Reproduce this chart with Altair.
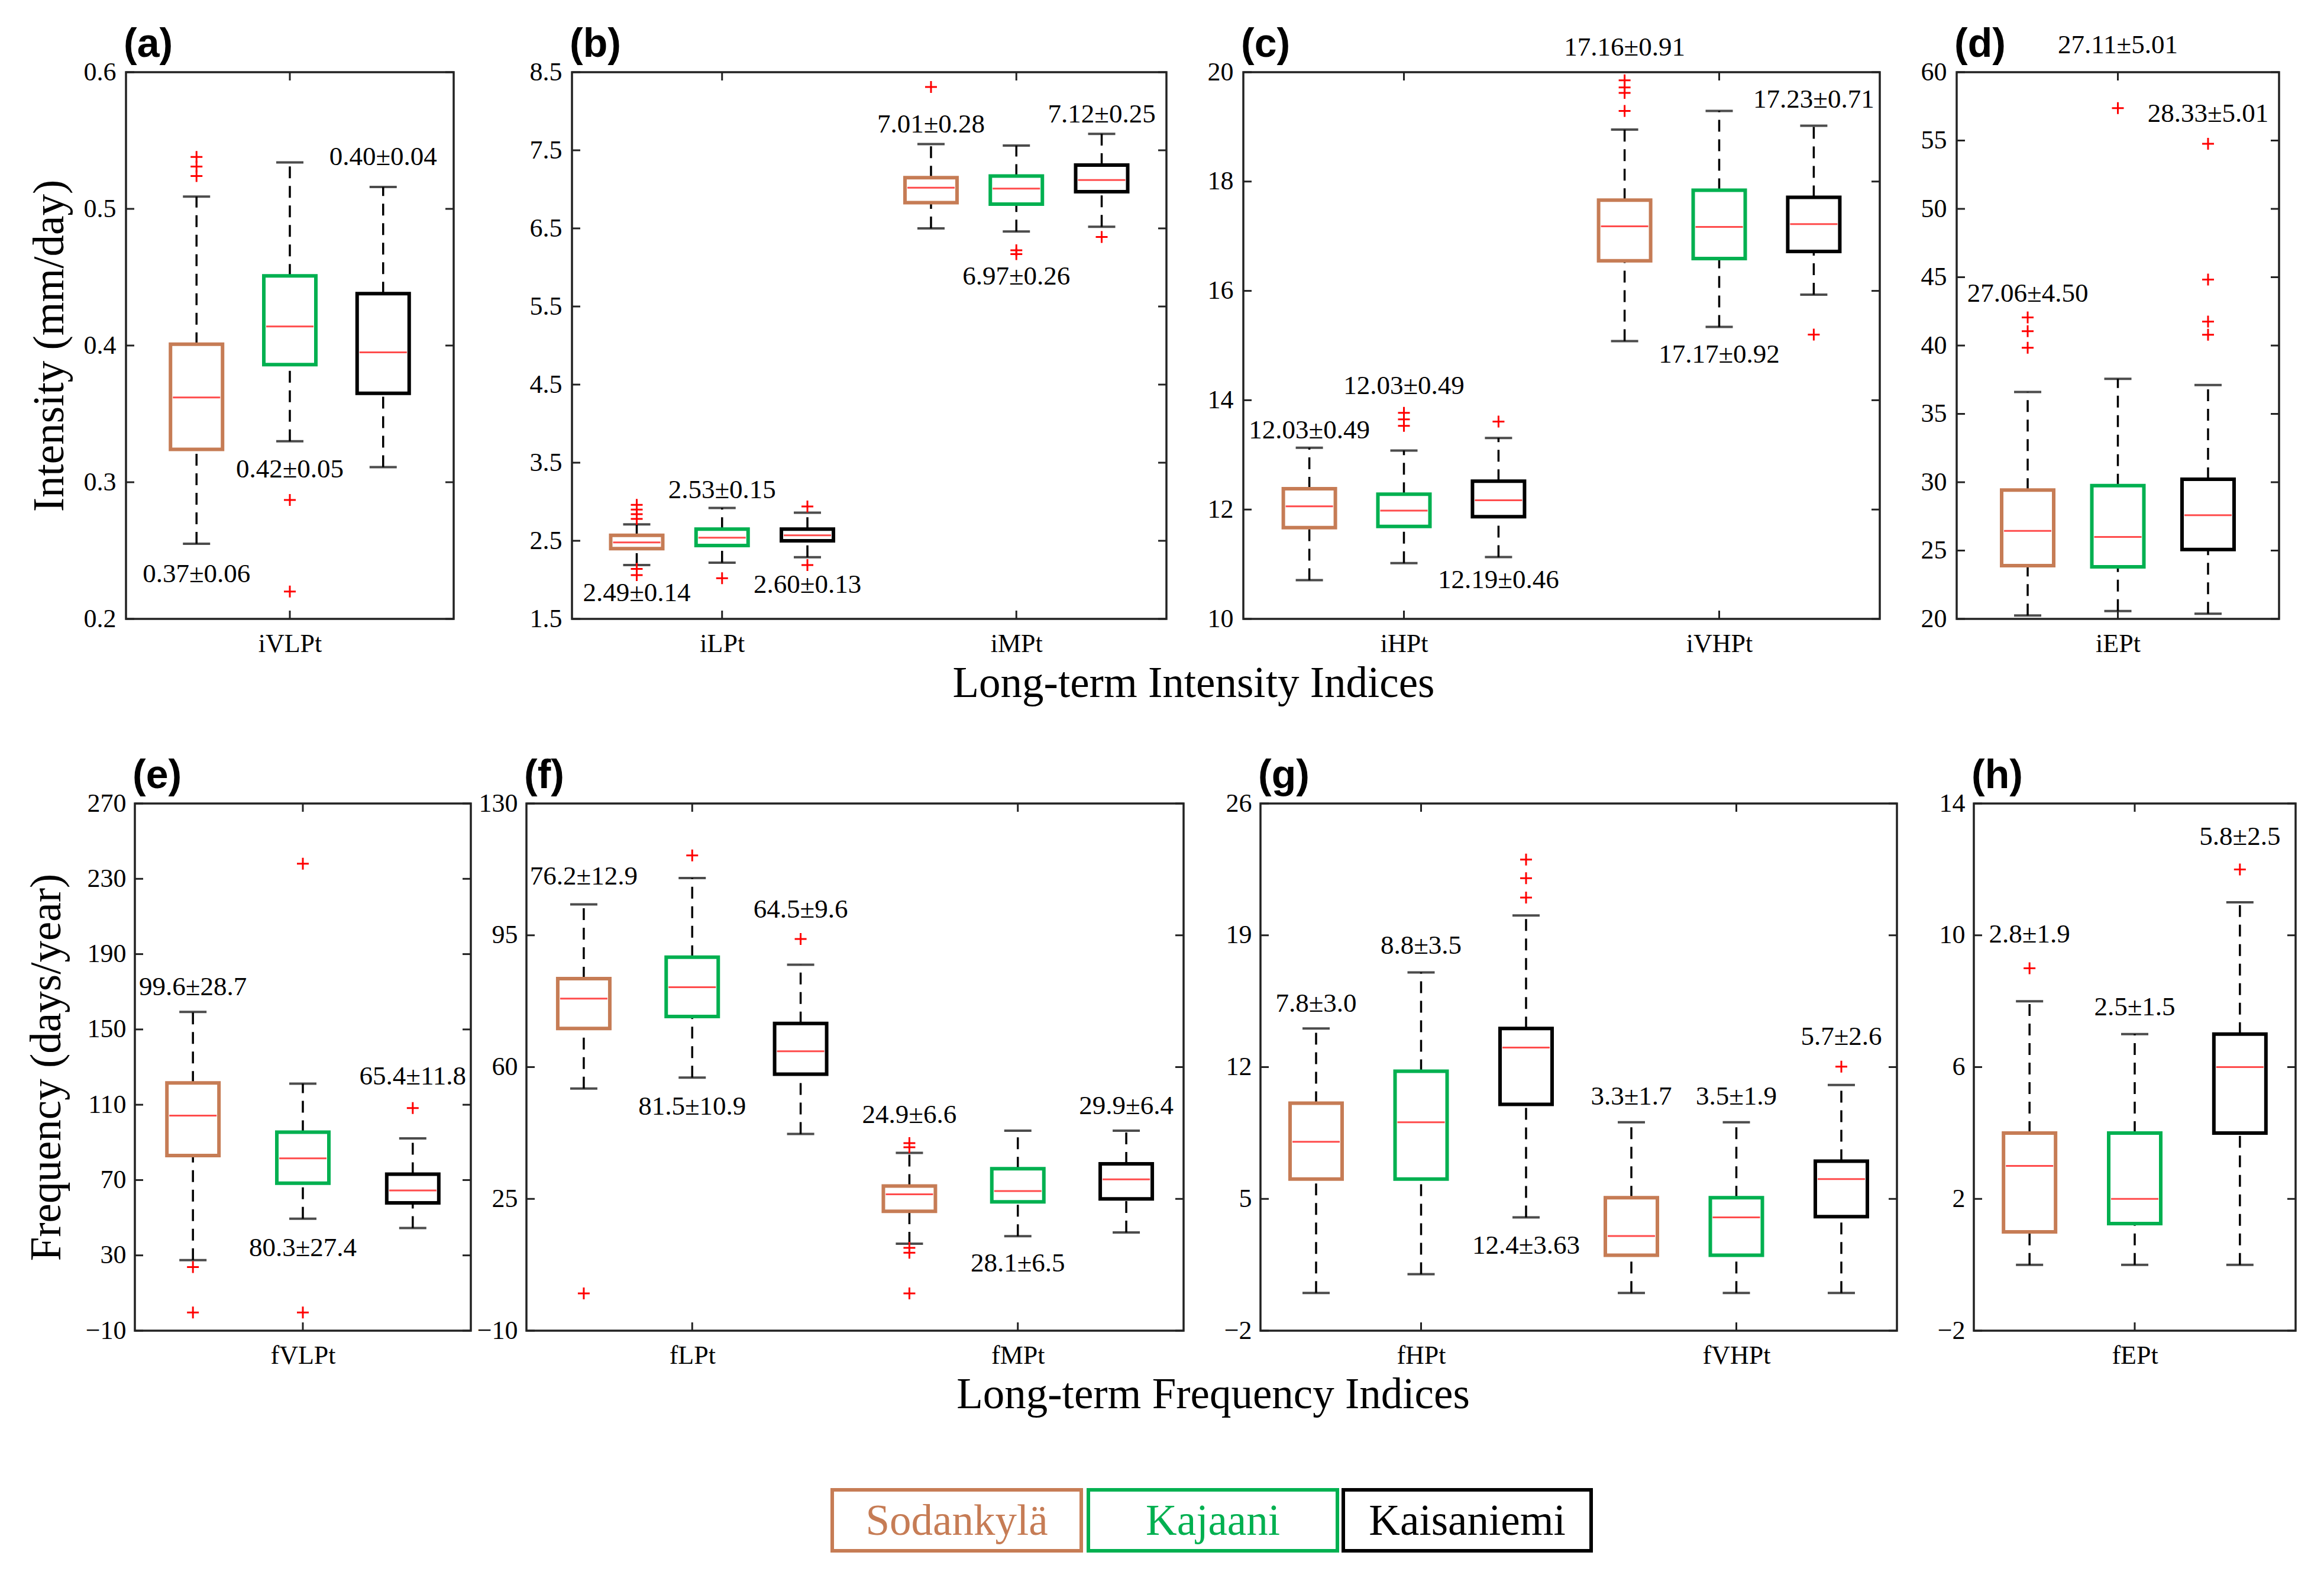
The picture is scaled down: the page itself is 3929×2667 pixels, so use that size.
import altair as alt
import pandas as pd

STATIONS = ["Sodankylä", "Kajaani", "Kaisaniemi"]
COLORS = ["#C67C55", "#00B050", "#000000"]
TITLE_TOP = "Long-term Intensity Indices"
TITLE_BOTTOM = "Long-term Frequency Indices"
YTITLE_TOP = "Intensity (mm/day)"
YTITLE_BOTTOM = "Frequency (days/year)"

# ---- (a) ----
A_GROUPS = ["iVLPt"]
A_YTICKS = [0.2, 0.3, 0.4, 0.5, 0.6]
A_BOX = [[0.255, 0.324, 0.362, 0.401, 0.509],
         [0.330, 0.386, 0.414, 0.451, 0.534],
         [0.311, 0.365, 0.395, 0.438, 0.516]]
A_OUT = [[0.538, 0.531, 0.524], [0.287, 0.220], []]
A_ANN = ["0.37±0.06", "0.42±0.05", "0.40±0.04"]
A_ANN_Y = [0.233, 0.3095, 0.538]

# ---- (b) ----
B_GROUPS = ["iLPt", "iMPt"]
B_YTICKS = [1.5, 2.5, 3.5, 4.5, 5.5, 6.5, 7.5, 8.5]
B_BOX = [[2.19, 2.40, 2.48, 2.57, 2.71],
         [2.22, 2.44, 2.54, 2.65, 2.92],
         [2.29, 2.50, 2.57, 2.65, 2.86],
         [6.50, 6.83, 7.02, 7.15, 7.58],
         [6.46, 6.81, 7.01, 7.17, 7.56],
         [6.52, 6.97, 7.12, 7.31, 7.71]]
B_OUT = [[2.96, 2.90, 2.84, 2.78, 2.14, 2.06], [2.02], [2.94, 2.19],
         [8.31], [6.22, 6.17], [6.39]]
B_ANN = ["2.49±0.14", "2.53±0.15", "2.60±0.13", "7.01±0.28", "6.97±0.26", "7.12±0.25"]
B_ANN_Y = [1.83, 3.15, 1.94, 7.83, 5.89, 7.96]

# ---- (c) ----
C_GROUPS = ["iHPt", "iVHPt"]
C_YTICKS = [10, 12, 14, 16, 18, 20]
C_BOX = [[10.71, 11.67, 12.06, 12.38, 13.13],
         [11.02, 11.69, 11.98, 12.28, 13.08],
         [11.13, 11.87, 12.17, 12.52, 13.31],
         [15.08, 16.55, 17.18, 17.66, 18.95],
         [15.34, 16.59, 17.17, 17.84, 19.29],
         [15.93, 16.72, 17.22, 17.71, 19.02]]
C_OUT = [[], [13.77, 13.65, 13.53], [13.61],
         [19.85, 19.72, 19.62, 19.29], [], [15.20]]
C_ANN = ["12.03±0.49", "12.03±0.49", "12.19±0.46", "17.16±0.91", "17.17±0.92", "17.23±0.71"]
C_ANN_Y = [13.45, 14.26, 10.71, 20.45, 14.84, 19.5]

# ---- (d) ----
D_GROUPS = ["iEPt"]
D_YTICKS = [20, 25, 30, 35, 40, 45, 50, 55, 60]
D_BOX = [[20.25, 23.90, 26.44, 29.43, 36.60],
         [20.57, 23.81, 26.00, 29.75, 37.56],
         [20.38, 25.08, 27.59, 30.22, 37.11]]
D_OUT = [[42.06, 41.05, 39.84], [57.37], [54.76, 44.83, 41.75, 40.79]]
D_ANN = ["27.06±4.50", "27.11±5.01", "28.33±5.01"]
D_ANN_Y = [43.8, 61.97, 56.98]

# ---- (e) ----
E_GROUPS = ["fVLPt"]
E_YTICKS = [-10, 30, 70, 110, 150, 190, 230, 270]
E_BOX = [[27.5, 83.0, 104.2, 121.6, 159.3],
         [49.5, 68.3, 81.5, 95.4, 121.2],
         [44.5, 57.9, 64.5, 73.1, 92.1]]
E_OUT = [[23.8, -0.3], [238.0, -0.3], [108.2]]
E_ANN = ["99.6±28.7", "80.3±27.4", "65.4±11.8"]
E_ANN_Y = [172.6, 34.1, 125.0]

# ---- (f) ----
F_GROUPS = ["fLPt", "fMPt"]
F_YTICKS = [-10, 25, 60, 95, 130]
F_BOX = [[54.3, 70.25, 78.2, 83.5, 103.2],
         [57.2, 73.45, 81.2, 89.2, 110.2],
         [42.25, 58.1, 64.2, 71.6, 87.2],
         [13.1, 21.7, 26.2, 28.4, 37.2],
         [15.1, 24.2, 27.1, 33.0, 43.1],
         [16.1, 25.0, 30.2, 34.3, 43.1]]
F_OUT = [[-0.1], [116.2], [94.0], [39.8, 38.7, 12.0, 10.7, -0.1], [], []]
F_ANN = ["76.2±12.9", "81.5±10.9", "64.5±9.6", "24.9±6.6", "28.1±6.5", "29.9±6.4"]
F_ANN_Y = [110.7, 49.5, 101.9, 47.3, 7.9, 49.7]

# ---- (g) ----
G_GROUPS = ["fHPt", "fVHPt"]
G_YTICKS = [-2, 5, 12, 19, 26]
G_BOX = [[0.0, 6.05, 8.03, 10.08, 14.05],
         [1.0, 6.05, 9.07, 11.78, 17.03],
         [4.02, 10.02, 13.04, 14.05, 20.05],
         [0.0, 2.01, 3.03, 5.06, 9.07],
         [0.0, 2.01, 4.02, 5.06, 9.07],
         [0.0, 4.06, 6.05, 7.0, 11.05]]
G_OUT = [[], [], [23.02, 22.03, 21.0], [], [], [12.02]]
G_ANN = ["7.8±3.0", "8.8±3.5", "12.4±3.63", "3.3±1.7", "3.5±1.9", "5.7±2.6"]
G_ANN_Y = [15.37, 18.46, 2.52, 10.46, 10.46, 13.61]

# ---- (h) ----
H_GROUPS = ["fEPt"]
H_YTICKS = [-2, 2, 6, 10, 14]
H_BOX = [[0.0, 1.0, 3.0, 4.0, 8.0],
         [0.0, 1.25, 2.0, 4.0, 7.0],
         [0.0, 4.0, 6.0, 7.0, 11.0]]
H_OUT = [[9.0], [], [12.0]]
H_ANN = ["2.8±1.9", "2.5±1.5", "5.8±2.5"]
H_ANN_Y = [10.03, 7.83, 12.99]

SERIF = "Liberation Serif"
PLUS = "M-1,0L1,0M0,-1L0,1"


def spacer(w, h, top=0, bottom=None, text=None, tx=0, ty=0):
    base = alt.Chart(pd.DataFrame({"v": [0]}))
    layers = [base.mark_rule(strokeOpacity=0, strokeWidth=1).encode(
        x=alt.value(1), y=alt.value(-top), y2=alt.value(h if bottom is None else bottom))]
    if text:
        layers.append(base.mark_text(font=SERIF, fontSize=73, color="black",
                                     align="center", baseline="middle").encode(
            x=alt.value(tx), y=alt.value(ty), text=alt.value(text)))
    return alt.layer(*layers).properties(
        width=w, height=h, view=alt.ViewBackground(stroke="transparent"))


def panel(letter, groups, yticks, fmt, boxes, outs, anns, ann_y, w, h, spread,
          lab_pad, ytitle=None, title_pad=0):
    n = len(groups)
    rows, orows = [], []
    for i in range(len(boxes)):
        g, s = divmod(i, 3)
        xc = g + 0.5 + spread * (s - 1)
        lo, q1, md, q3, hi = boxes[i]
        rows.append({"x": xc, "station": STATIONS[s], "lo": lo, "q1": q1,
                     "med": md, "q3": q3, "hi": hi, "ann": anns[i], "ay": ann_y[i]})
        for v in outs[i]:
            orows.append({"x": xc, "y": v})
    df = pd.DataFrame(rows)
    odf = pd.DataFrame(orows)
    xs = alt.Scale(domain=[0, n], nice=False, zero=False)
    ys = alt.Scale(domain=[yticks[0], yticks[-1]], nice=False, zero=False)
    label_expr = "[" + ",".join("'%s'" % g for g in groups) + "][floor(datum.value)]"
    xaxis = alt.Axis(values=[g + 0.5 for g in range(n)], labelExpr=label_expr,
                     ticks=False, tickSize=0, domain=False, grid=False,
                     labelFont=SERIF, labelFontSize=44, labelColor="black",
                     labelPadding=20, title=None, labelFlush=False, labelOverlap=False)
    yargs = dict(values=yticks, format=fmt, ticks=False, tickSize=0, domain=False,
                 grid=False, labelFont=SERIF, labelFontSize=44, labelColor="black",
                 labelPadding=lab_pad, labelFlush=False, labelOverlap=False)
    if ytitle:
        yaxis = alt.Axis(title=ytitle, titleFont=SERIF, titleFontSize=73,
                         titleFontWeight="normal", titleColor="black",
                         titlePadding=title_pad, **yargs)
    else:
        yaxis = alt.Axis(title=None, **yargs)

    def X(f):
        return alt.X(f + ":Q", scale=xs, axis=xaxis)

    def Y(f):
        return alt.Y(f + ":Q", scale=ys, axis=yaxis)

    base = alt.Chart(df)
    dash = dict(color="black", strokeWidth=3.5, strokeDash=[20, 13])
    cap = dict(orient="horizontal", size=46, thickness=4, color="black")
    layers = [
        base.mark_rule(**dash).encode(x=X("x"), y=Y("lo"), y2="q1"),
        base.mark_rule(**dash).encode(x=X("x"), y=Y("q3"), y2="hi"),
        base.mark_bar(orient="vertical", size=88, fill="white", strokeWidth=6).encode(
            x=X("x"), y=Y("q1"), y2="q3",
            stroke=alt.Stroke("station:N", scale=alt.Scale(domain=STATIONS, range=COLORS),
                              legend=None)),
        base.mark_tick(**cap).encode(x=X("x"), y=Y("lo")),
        base.mark_tick(**cap).encode(x=X("x"), y=Y("hi")),
        base.mark_tick(orient="horizontal", size=80, thickness=3, color="#FF0000").encode(
            x=X("x"), y=Y("med")),
    ]
    if len(odf):
        layers.append(alt.Chart(odf).mark_point(
            shape=PLUS, size=400, filled=False, color="#FF0000", strokeWidth=3,
            opacity=1).encode(x=X("x"), y=Y("y")))
    layers.append(base.mark_text(font=SERIF, fontSize=45, color="black", align="center",
                                 baseline="middle").encode(x=X("x"), y=Y("ay"), text="ann:N"))
    tdf = pd.DataFrame({"t": yticks})
    gdf = pd.DataFrame({"g": [g + 0.5 for g in range(n)]})
    tk = dict(color="#222222", strokeWidth=3)
    layers += [
        alt.Chart(tdf).mark_rule(**tk).encode(y=Y("t"), x=alt.value(0), x2=alt.value(14)),
        alt.Chart(tdf).mark_rule(**tk).encode(y=Y("t"), x=alt.value(w - 14), x2=alt.value(w)),
        alt.Chart(gdf).mark_rule(**tk).encode(x=X("g"), y=alt.value(h - 14), y2=alt.value(h)),
        alt.Chart(gdf).mark_rule(**tk).encode(x=X("g"), y=alt.value(0), y2=alt.value(14)),
        alt.Chart(pd.DataFrame({"l": ["(%s)" % letter]})).mark_text(
            font="Liberation Sans", fontWeight="bold", fontSize=68, color="black",
            align="left", baseline="alphabetic").encode(
            x=alt.value(-4), y=alt.value(-26), text="l:N"),
    ]
    return alt.layer(*layers).properties(
        width=w, height=h,
        view=alt.ViewBackground(stroke="#222222", strokeWidth=3.5, fill="white"))


def legend_item(i, w, h):
    base = alt.Chart(pd.DataFrame({"name": [STATIONS[i]]}))
    return base.mark_text(font=SERIF, fontSize=73, color=COLORS[i], align="center",
                          baseline="middle").encode(
        x=alt.value(w / 2), y=alt.value(h / 2 + 2), text="name:N").properties(
        width=w, height=h,
        view=alt.ViewBackground(stroke=COLORS[i], strokeWidth=6, fill="white"))


H1, H2 = 924, 891
G1, G2, LH = 310, 265, 103
OVER = 150  # room reserved above the second row of panels

pa = panel("a", A_GROUPS, A_YTICKS, ".1f", A_BOX, A_OUT, A_ANN, A_ANN_Y, 554, H1, 0.29, 17,
           YTITLE_TOP, 20)
pb = panel("b", B_GROUPS, B_YTICKS, ".1f", B_BOX, B_OUT, B_ANN, B_ANN_Y, 1005, H1, 0.29, 17)
pc = panel("c", C_GROUPS, C_YTICKS, "d", C_BOX, C_OUT, C_ANN, C_ANN_Y, 1076, H1, 0.30, 17)
pdd = panel("d", D_GROUPS, D_YTICKS, "d", D_BOX, D_OUT, D_ANN, D_ANN_Y, 545, H1, 0.285, 17)
pe = panel("e", E_GROUPS, E_YTICKS, "d", E_BOX, E_OUT, E_ANN, E_ANN_Y, 568, H2, 0.333, 15,
           YTITLE_BOTTOM, 28)
pf = panel("f", F_GROUPS, F_YTICKS, "d", F_BOX, F_OUT, F_ANN, F_ANN_Y, 1111, H2, 0.333, 15)
pg = panel("g", G_GROUPS, G_YTICKS, "d", G_BOX, G_OUT, G_ANN, G_ANN_Y, 1076, H2, 0.333, 15)
ph = panel("h", H_GROUPS, H_YTICKS, "d", H_BOX, H_OUT, H_ANN, H_ANN_Y, 544, H2, 0.333, 15)

row1 = alt.hconcat(
    spacer(204, H1, top=113, bottom=H1 + G1 - OVER, text=TITLE_TOP, tx=2009, ty=H1 + 110),
    pa, spacer(200, H1), pb, spacer(130, H1), pc, spacer(130, H1), pdd,
    spacing=0, bounds="flush")
row2 = alt.hconcat(
    spacer(219, H2, top=OVER, bottom=H2 + G2, text=TITLE_BOTTOM, tx=2042, ty=H2 + 109),
    pe, spacer(94, H2), pf, spacer(130, H2), pg, spacer(130, H2), ph,
    spacing=0, bounds="flush")
row3 = alt.hconcat(
    spacer(1398, LH), legend_item(0, 421, LH), spacer(12, LH), legend_item(1, 421, LH),
    spacer(10, LH), legend_item(2, 419, LH),
    spacing=0, bounds="flush")

chart = alt.vconcat(row1, row2, row3, spacing=0).properties(padding=0, background="white")

chart.save("out.html", embed_options={"renderer": "svg", "actions": False})
